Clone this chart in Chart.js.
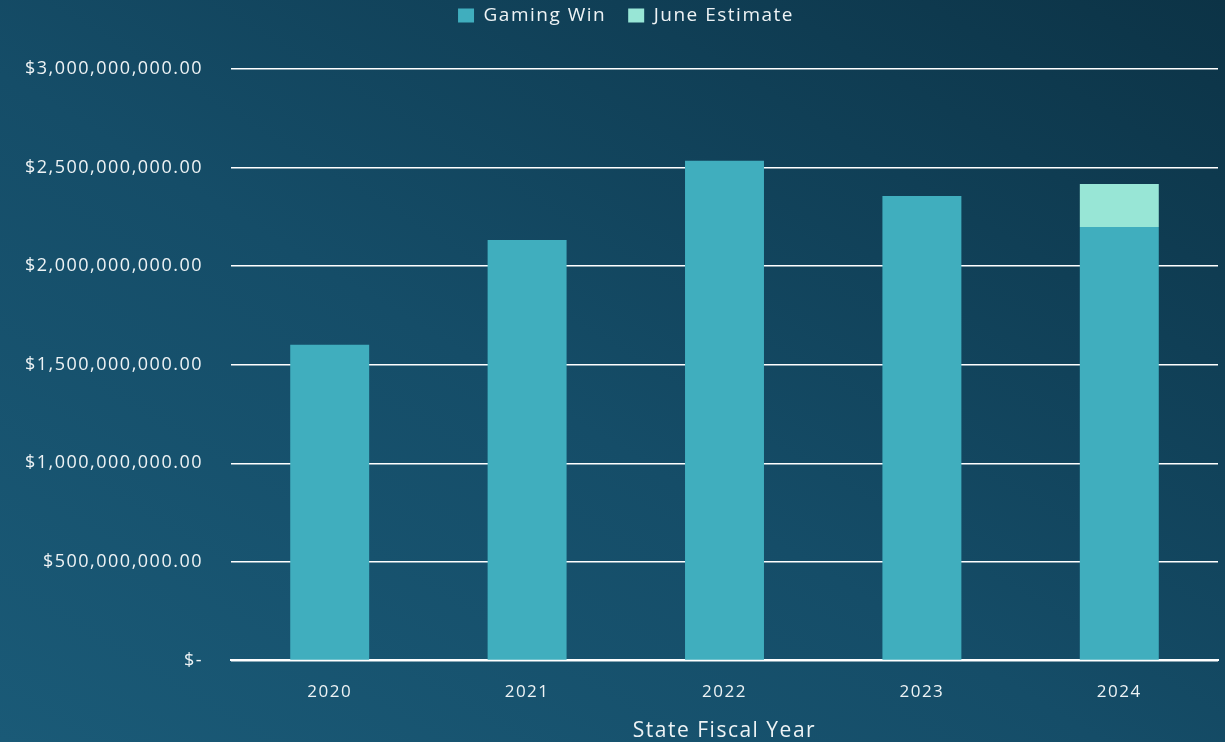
<!DOCTYPE html>
<html>
<head>
<meta charset="utf-8">
<style>
  html, body {
    margin: 0;
    padding: 0;
    width: 1225px;
    height: 742px;
    overflow: hidden;
  }
  body {
    background: linear-gradient(to top right, #1a5a77 0%, #154d68 45%, #103f56 75%, #0c3346 100%);
  }
  #bar-chart {
    display: block;
  }
</style>
</head>
<body>
  <canvas id="bar-chart" width="1225" height="742"></canvas>

  <script src="https://cdn.jsdelivr.net/npm/chart.js"></script>
  <script>
    // Данные
    const years = ['2020', '2021', '2022', '2023', '2024'];
    const gamingWin = [1601000000, 2133000000, 2534000000, 2356000000, 2199000000];
    const juneEstimate = [0, 0, 0, 0, 218000000];
    const yTicks = [0, 500000000, 1000000000, 1500000000, 2000000000, 2500000000, 3000000000];

    const textColor = '#eef3f5';
    const fontFamily = '"Open Sans", "Noto Sans", sans-serif';

    // Бухгалтерский формат подписи
    const formatMoney = (value) => {
      if(value === 0) return '$-';
      return '$' + value.toLocaleString('en-US', {minimumFractionDigits: 2, maximumFractionDigits: 2});
    }

    // Разрядка букв (как у исходного шрифта) и сдвиг легенды вправо
    const tweaksPlugin = {
      id: 'tweaks',
      beforeLayout: (chart) => { chart.ctx.letterSpacing = '1.5px'; },
      afterLayout: (chart) => {
        chart.legend.left += 17;
        chart.legend.right += 17;
      },
      beforeDraw: (chart) => { chart.ctx.letterSpacing = '1.5px'; }
    }

    let canvas = window.document.querySelector('canvas');
    let context = canvas.getContext('2d');

    let chart = new Chart(context, {
      type: 'bar',
      data: {
        labels: years,
        datasets: [
          {
            label: 'Gaming Win',
            data: gamingWin,
            backgroundColor: '#40aebe',
            borderWidth: 0,
            categoryPercentage: 1,
            barPercentage: 0.4
          },
          {
            label: 'June Estimate',
            data: juneEstimate,
            backgroundColor: '#98e6d6',
            borderWidth: 0,
            categoryPercentage: 1,
            barPercentage: 0.4
          }
        ]
      },
      plugins: [tweaksPlugin],
      options: {
        responsive: false,
        animation: false,
        layout: {
          padding: {top: -16, right: 7, bottom: -2, left: 0}
        },
        scales: {
          x: {
            stacked: true,
            grid: {
              display: false,
              drawTicks: false
            },
            border: {
              color: '#ffffff',
              width: 2
            },
            ticks: {
              color: textColor,
              padding: 22,
              font: {family: fontFamily, size: 17}
            },
            title: {
              display: true,
              text: 'State Fiscal Year',
              color: textColor,
              padding: {top: -6, bottom: 0},
              font: {family: fontFamily, size: 21}
            }
          },
          y: {
            stacked: true,
            min: 0,
            max: 3000000000,
            afterFit: (scale) => { scale.width = 231; },
            afterBuildTicks: (scale) => {
              scale.ticks = yTicks.map(v => ({value: v}));
            },
            grid: {
              color: '#ffffff',
              lineWidth: 1.5,
              drawTicks: false
            },
            border: {
              display: false
            },
            ticks: {
              color: textColor,
              padding: 28,
              font: {family: fontFamily, size: 18},
              callback: (value) => formatMoney(value)
            }
          }
        },
        plugins: {
          legend: {
            position: 'top',
            labels: {
              color: textColor,
              boxWidth: 16,
              boxHeight: 14,
              padding: 22,
              font: {family: fontFamily, size: 19}
            }
          },
          // пустой заголовок как отступ между легендой и графиком
          title: {
            display: true,
            text: '',
            weight: 500,
            padding: 0,
            font: {size: 34, lineHeight: 1}
          },
          tooltip: {
            enabled: false
          }
        }
      }
    });
  </script>
</body>
</html>
